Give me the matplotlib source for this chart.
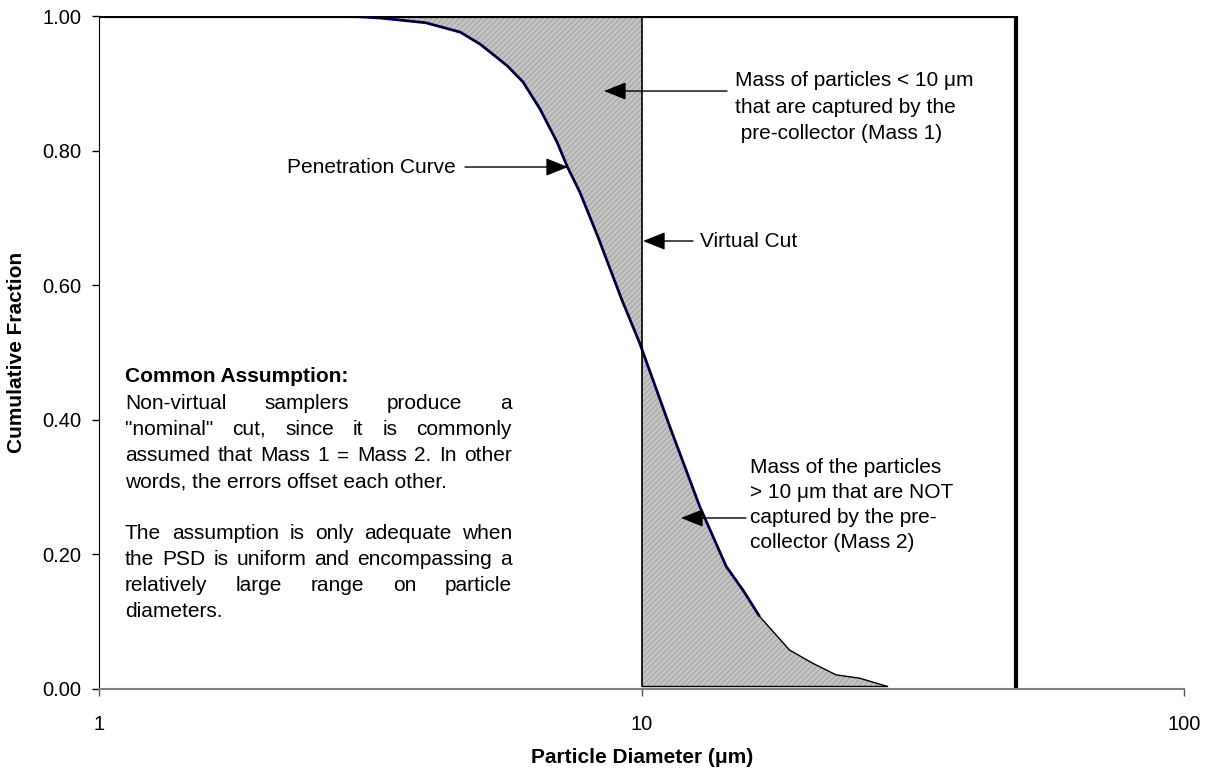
import matplotlib
matplotlib.use('Agg')
import matplotlib.pyplot as plt
import numpy as np

plt.rcParams['font.family'] = ['Liberation Sans', 'DejaVu Sans']
plt.rcParams['hatch.linewidth'] = 0.6

# penetration curve
diam = [1, 2, 3, 3.3, 4, 4.63, 5.04, 5.65, 6.04, 6.49, 6.98, 7.28, 7.69, 8.3, 9.18,
        9.91, 11.26, 12.79, 14.31, 15.36, 16.48, 18.71, 20.6, 22.8, 25.2, 28.3]
frac = [1.0, 1.0, 0.999, 0.997, 0.99, 0.976, 0.958, 0.926, 0.902, 0.862, 0.8125, 0.777,
        0.738, 0.672, 0.579, 0.514, 0.390, 0.271, 0.182, 0.147, 0.108, 0.058, 0.0387,
        0.021, 0.016, 0.004]
fit_end = 16.5       # blue fitted line stops here
cut_d = 10           # virtual cut
ideal_d = 49         # thick step line
x_ticks = [1, 10, 100]
y_ticks = [0.0, 0.2, 0.4, 0.6, 0.8, 1.0]

FS = 15

fig = plt.figure(figsize=(12.08, 7.71), dpi=100)
ax = fig.add_axes([0.0822, 0.1064, 0.8982, 0.8728])

d = np.array(diam)
f = np.array(frac)
f_cut = np.interp(np.log10(cut_d), np.log10(d), f)

# shaded areas
dl = np.append(d[d < cut_d], cut_d)
fl = np.append(f[d < cut_d], f_cut)
dr = np.insert(d[d > cut_d], 0, cut_d)
fr = np.insert(f[d > cut_d], 0, f_cut)
ax.fill_between(dl, fl, 1.0, facecolor='#c4c4c4', edgecolor='#9c9c9c', hatch='//////', linewidth=0)
ax.fill_between(dr, f[-1], fr, facecolor='#c4c4c4', edgecolor='#9c9c9c', hatch='//////', linewidth=0)

# fitted curve (blue) and data outline (black)
m = d <= fit_end
ax.plot(d[m], f[m], color='#000080', lw=2.0, solid_capstyle='butt')
ax.plot(d, f, color='black', lw=1)
ax.plot([d[-1], cut_d], [f[-1], f[-1]], color='black', lw=1)
ax.plot([cut_d, cut_d], [f[-1], 1.0], color='black', lw=1.2)

# ideal step
ax.plot([1, ideal_d, ideal_d], [1.0, 1.0, 0.0], color='black', lw=3, solid_joinstyle='miter')

ax.set_xscale('log')
ax.set_xlim(1, 100)
ax.set_ylim(0, 1.0)
ax.set_xticks(x_ticks)
ax.set_xticklabels([str(v) for v in x_ticks])
ax.xaxis.set_minor_locator(matplotlib.ticker.NullLocator())
ax.set_yticks(y_ticks)
ax.set_yticklabels(['%.2f' % v for v in y_ticks])
ax.tick_params(axis='y', direction='out', length=5, width=1, pad=8, labelsize=14.5, color='black')
ax.tick_params(axis='x', direction='out', length=5, width=1, pad=14, labelsize=14.5, color='#555555')
for s in ['top', 'right']:
    ax.spines[s].set_visible(False)
ax.spines['left'].set_color('black')
ax.spines['bottom'].set_color('#808080')
ax.spines['bottom'].set_linewidth(1.5)

ax.set_xlabel('Particle Diameter (μm)', fontsize=FS, fontweight='bold')
ax.xaxis.set_label_coords(0.5, -0.1025)
ax.xaxis.label.set_va('center')
ax.set_ylabel('Cumulative Fraction', fontsize=FS, fontweight='bold')
ax.yaxis.set_label_coords(-0.0759, 0.5)
ax.yaxis.label.set_va('center')


def fx(px):
    return (px - 99.3) / 1085.0


def fy(py):
    return (689.0 - py) / 673.0


def xd(px):
    return 10 ** ((px - 99.3) / 542.5)


def lines(txts, x, ys, ha):
    for t, y in zip(txts, ys):
        ax.text(fx(x), fy(y), t, transform=ax.transAxes, ha=ha, va='center', fontsize=FS)


def arrow_to(x0, x1, y):
    ax.annotate('', xy=(xd(x1), fy(y)), xytext=(xd(x0), fy(y)),
                xycoords=('data', 'axes fraction'), textcoords=('data', 'axes fraction'),
                arrowprops=dict(arrowstyle='-|>,head_length=0.55,head_width=0.22', color='black',
                                lw=1, mutation_scale=25, shrinkA=0, shrinkB=0))


# Mass 1
lines(['Mass of particles < 10 μm', 'that are captured by the', ' pre-collector (Mass 1)'],
      735, [80, 107, 133], 'left')
arrow_to(727, 604, 91)

# penetration curve
lines(['Penetration Curve'], 456, [167], 'right')
arrow_to(465, 568, 167)

# virtual cut
lines(['Virtual Cut'], 700, [241], 'left')
arrow_to(693, 643, 241)

# Mass 2
lines(['Mass of the particles', '> 10 μm that are NOT', 'captured by the pre-', 'collector (Mass 2)'],
      750, [468, 493, 518, 543], 'left')
arrow_to(746, 681, 518)

# common assumption block, justified
ax.text(fx(125), fy(377), 'Common Assumption:', transform=ax.transAxes, ha='left', va='center',
        fontsize=FS, fontweight='bold')
block = [
    ('Non-virtual samplers produce a', 404, True),
    ('"nominal" cut, since it is commonly', 430, True),
    ('assumed that Mass 1 = Mass 2.  In other', 456, True),
    ('words, the errors offset each other.', 482, False),
    ('The assumption is only adequate when', 534, True),
    ('the PSD is uniform and encompassing a', 560, True),
    ('relatively large range on particle', 586, True),
    ('diameters.', 612, False),
]
left, right = 125, 512
fig.canvas.draw()
rend = fig.canvas.get_renderer()
for txt, y, just in block:
    if not just:
        ax.text(fx(left), fy(y), txt, transform=ax.transAxes, ha='left', va='center', fontsize=FS)
        continue
    words = txt.split()
    objs = [ax.text(fx(left), fy(y), w, transform=ax.transAxes, ha='left', va='center', fontsize=FS)
            for w in words]
    widths = [o.get_window_extent(rend).width for o in objs]
    gap = (right - left - sum(widths)) / (len(words) - 1)
    x = left
    for o, w in zip(objs, widths):
        o.set_x(fx(x))
        x += w + gap

fig.savefig('out.png', dpi=100)
